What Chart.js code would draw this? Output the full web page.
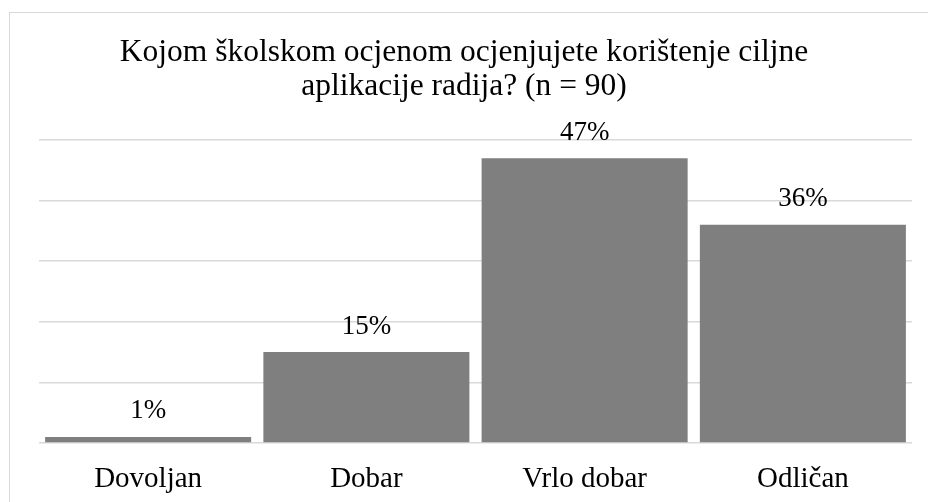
<!DOCTYPE html>
<html>
<head>
<meta charset="utf-8">
<script src="https://cdn.jsdelivr.net/npm/chart.js@4.4.1/dist/chart.umd.min.js"></script>
<style>
  body { margin: 0; background: #fff; overflow: hidden; }
  #wrap { position: relative; width: 928px; height: 502px; }
  #frame { position: absolute; left: 9px; top: 12px; width: 1000px; height: 600px; border: 1.5px solid #d9d9d9; box-sizing: border-box; }
  #gradeChart { position: absolute; left: 0; top: 0; }
</style>
</head>
<body>
<div id="wrap">
  <div id="frame"></div>
  <canvas id="gradeChart" width="928" height="502"></canvas>
</div>
<script>
// Chart data
const categories = ['Dovoljan', 'Dobar', 'Vrlo dobar', 'Odličan'];
const percentages = [1, 15, 47, 36];
const titleLines = ['Kojom školskom ocjenom ocjenjujete korištenje ciljne', 'aplikacije radija? (n = 90)'];
const axisMax = 50;
const axisStep = 10;

const serif = "'Liberation Serif', 'Times New Roman', serif";

// Two-line title, centred on the whole picture
const titlePlugin = {
    id: 'centeredTitle',
    afterDraw(chart) {
        const ctx = chart.ctx;
        ctx.save();
        ctx.font = '31.5px ' + serif;
        ctx.fillStyle = '#000';
        ctx.textAlign = 'center';
        ctx.textBaseline = 'alphabetic';
        titleLines.forEach((line, i) => {
            ctx.fillText(line, chart.width / 2, 61 + i * 33.6);
        });
        ctx.restore();
    }
};

// Percent labels above each bar
const valueLabels = {
    id: 'valueLabels',
    afterDatasetsDraw(chart) {
        const ctx = chart.ctx;
        const meta = chart.getDatasetMeta(0);
        ctx.save();
        ctx.font = '27px ' + serif;
        ctx.fillStyle = '#000';
        ctx.textAlign = 'center';
        ctx.textBaseline = 'alphabetic';
        meta.data.forEach((bar, i) => {
            ctx.fillText(percentages[i] + '%', bar.x, bar.y - 18.5);
        });
        ctx.restore();
    }
};

new Chart(document.getElementById('gradeChart'), {
    type: 'bar',
    data: {
        labels: categories,
        datasets: [{
            data: percentages,
            backgroundColor: '#7f7f7f',
            borderWidth: 0,
            barPercentage: 1,
            categoryPercentage: 0.944
        }]
    },
    options: {
        responsive: false,
        animation: false,
        layout: { padding: { left: 39, right: 16, top: 140, bottom: 0 } },
        scales: {
            x: {
                grid: { display: false, drawTicks: false },
                border: { display: false },
                ticks: {
                    color: '#000',
                    font: { family: serif, size: 29 },
                    padding: 19
                },
                afterFit: s => { s.height = 59; }
            },
            y: {
                min: 0,
                max: axisMax,
                ticks: { display: false, stepSize: axisStep },
                border: { display: false },
                grid: { color: '#d9d9d9', lineWidth: 1.5, drawTicks: false },
                afterFit: s => { s.width = 0; }
            }
        },
        plugins: {
            legend: { display: false },
            title: { display: false },
            tooltip: { enabled: false }
        }
    },
    plugins: [titlePlugin, valueLabels]
});
</script>
</body>
</html>
